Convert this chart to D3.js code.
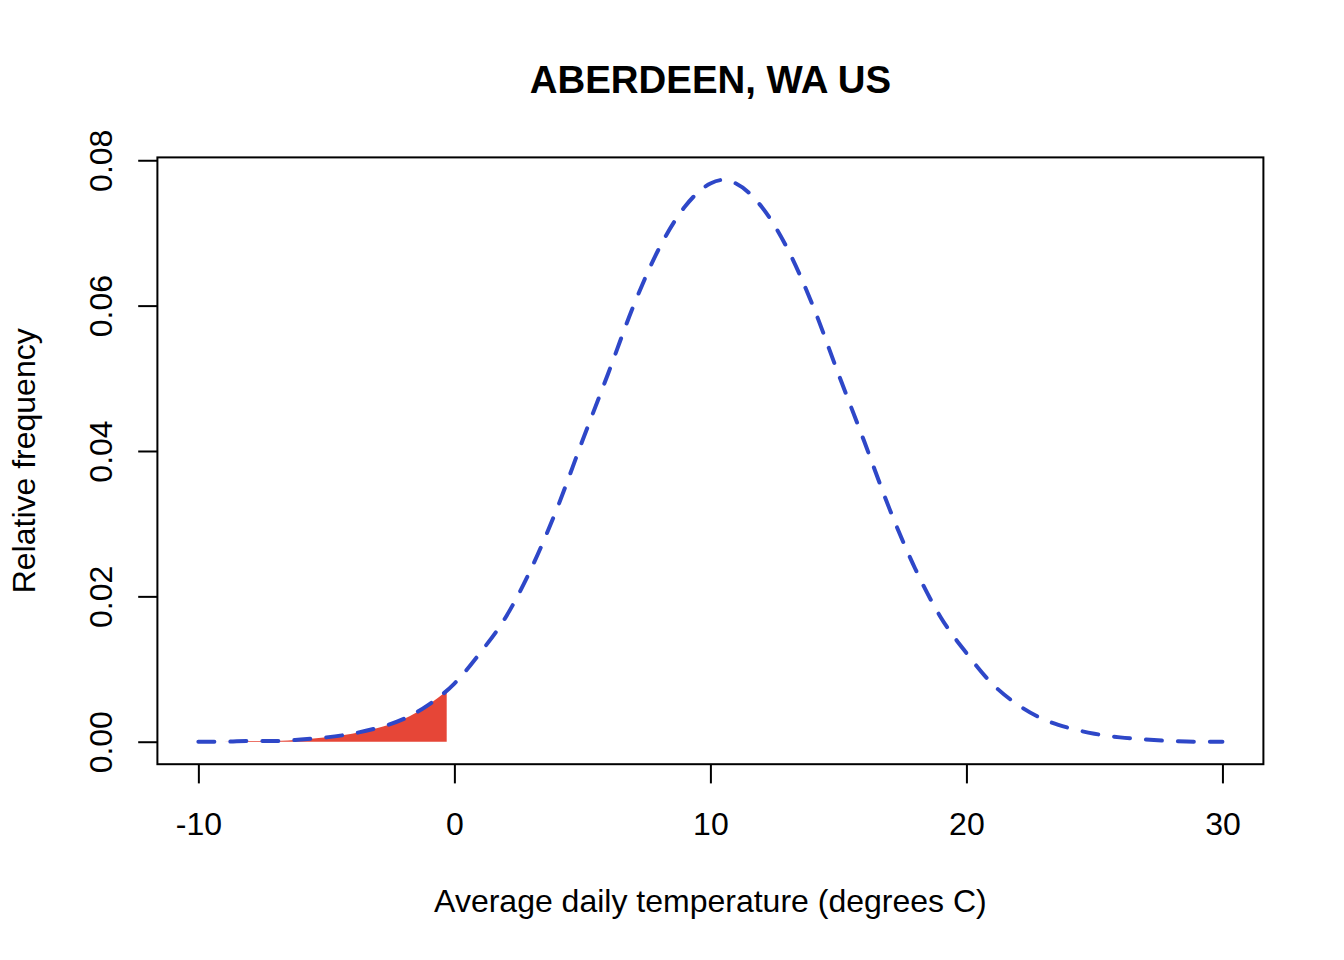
<!DOCTYPE html>
<html>
<head>
<meta charset="utf-8">
<script src="https://cdn.jsdelivr.net/npm/d3@7"></script>
<style>
  body { margin: 0; background: #fff; }
  text { font-family: "Liberation Sans", Arial, Helvetica, sans-serif; fill: #000; }
</style>
</head>
<body>
<div id="chart-container"></div>
<script>
// Temperatures (degrees C) where the density curve was read
var temps = [-10, -9, -8, -7, -6, -5, -4, -3, -2, -1, 0, 1, 2, 3, 4, 5, 6, 7, 8, 9, 10,
             10.5, 11, 12, 13, 14, 15, 16, 17, 18, 19, 20, 21, 22, 23, 24, 25, 26, 27, 28, 29, 30];
// Relative frequency at each temperature
var density = [0.0000, 0.0000, 0.0001, 0.0001, 0.0003, 0.0006, 0.0011, 0.0019, 0.0031, 0.0051,
               0.0080, 0.0122, 0.0171, 0.0238, 0.0320, 0.0414, 0.0506, 0.0600, 0.0679, 0.0736,
               0.0768, 0.0773, 0.0768, 0.0736, 0.0679, 0.0600, 0.0506, 0.0414, 0.0320, 0.0238,
               0.0171, 0.0122, 0.0080, 0.0051, 0.0031, 0.0019, 0.0011, 0.0006, 0.0003, 0.0001,
               0.0000, 0.0000];
// Shaded tail ends here
var cutoffTemp = -0.3;
var cutoffDensity = 0.0070;

var xTicks = [-10, 0, 10, 20, 30];
var yTicks = [0, 0.02, 0.04, 0.06, 0.08];

var title = "ABERDEEN, WA US";
var xTitle = "Average daily temperature (degrees C)";
var yTitle = "Relative frequency";

// Page and plot region (R-like margins)
var W = 1344, H = 960;
var margin = { top: 157.4, right: 80.6, bottom: 195.8, left: 157.4 },
    width = W - margin.left - margin.right,
    height = H - margin.top - margin.bottom;

var svg = d3.select("#chart-container")
    .append("svg")
    .attr("width", W)
    .attr("height", H);

var g = svg.append("g")
    .attr("transform", "translate(" + margin.left + "," + margin.top + ")");

// R style 4% padding on both scales
var xr = d3.extent(temps), xpad = (xr[1] - xr[0]) * 0.04;
var x = d3.scaleLinear()
    .domain([xr[0] - xpad, xr[1] + xpad])
    .range([0, width]);

var ymax = d3.max(density), ypad = ymax * 0.04;
var y = d3.scaleLinear()
    .domain([0 - ypad, ymax + ypad])
    .range([height, 0]);

var pts = temps.map(function (t, i) { return [t, density[i]]; });

// Shaded tail
var tail = pts.filter(function (d) { return d[0] < cutoffTemp; });
tail.push([cutoffTemp, cutoffDensity]);

var area = d3.area()
    .x(function (d) { return x(d[0]); })
    .y0(y(0))
    .y1(function (d) { return y(d[1]); })
    .curve(d3.curveMonotoneX);

g.append("path")
    .datum(tail)
    .attr("d", area)
    .attr("fill", "#e64637");

// Density curve
var line = d3.line()
    .x(function (d) { return x(d[0]); })
    .y(function (d) { return y(d[1]); })
    .curve(d3.curveMonotoneX);

g.append("path")
    .datum(pts)
    .attr("d", line)
    .attr("fill", "none")
    .attr("stroke", "#2e47c8")
    .attr("stroke-width", 4)
    .attr("stroke-dasharray", "16 16")
    .attr("stroke-linecap", "round");

// Box
g.append("rect")
    .attr("x", 0).attr("y", 0)
    .attr("width", width).attr("height", height)
    .attr("fill", "none")
    .attr("stroke", "#000")
    .attr("stroke-width", 2);

// X axis
var xAxis = g.append("g")
    .attr("transform", "translate(0," + height + ")")
    .call(d3.axisBottom(x).tickValues(xTicks).tickSize(19.2).tickFormat(d3.format("d")));
xAxis.select(".domain").remove();
xAxis.selectAll(".tick line").attr("stroke", "#000").attr("stroke-width", 2);
xAxis.selectAll(".tick text")
    .attr("y", 70.5)
    .attr("dy", null)
    .style("font-size", "32px")
    .text(function (d) { return d < 0 ? "-" + Math.abs(d) : d; });

// Y axis
var yAxis = g.append("g")
    .call(d3.axisLeft(y).tickValues(yTicks).tickSize(19.2).tickFormat(d3.format(".2f")));
yAxis.select(".domain").remove();
yAxis.selectAll(".tick line").attr("stroke", "#000").attr("stroke-width", 2);
yAxis.selectAll(".tick text")
    .attr("x", null).attr("dy", null)
    .attr("text-anchor", "middle")
    .attr("transform", "translate(-45.5,0) rotate(-90)")
    .style("font-size", "32px");

// Titles
svg.append("text")
    .attr("x", margin.left + width / 2)
    .attr("y", 93)
    .attr("text-anchor", "middle")
    .style("font-size", "38.4px")
    .style("font-weight", "bold")
    .text(title);

svg.append("text")
    .attr("x", margin.left + width / 2)
    .attr("y", 912)
    .attr("text-anchor", "middle")
    .style("font-size", "32px")
    .text(xTitle);

svg.append("text")
    .attr("transform", "translate(34.5," + (margin.top + height / 2) + ") rotate(-90)")
    .attr("text-anchor", "middle")
    .style("font-size", "32px")
    .text(yTitle);
</script>
</body>
</html>
